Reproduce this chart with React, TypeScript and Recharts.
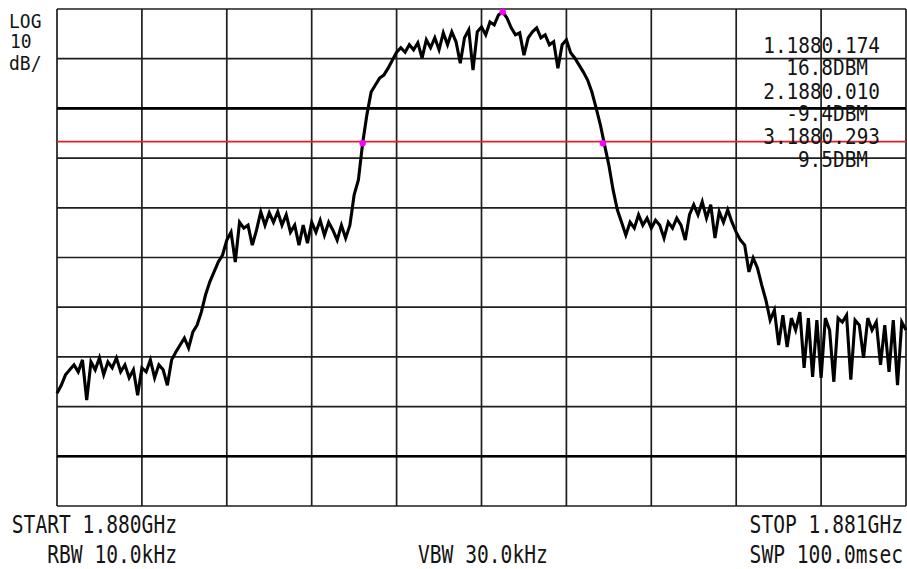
import {
  LineChart,
  Line,
  XAxis,
  YAxis,
  CartesianGrid,
  ReferenceLine,
  ReferenceDot,
} from "recharts";

// sweep: 1.880 GHz .. 1.881 GHz, offsets in kHz
const START_KHZ = 0;
const STOP_KHZ = 1000;
const STEP_KHZ = 5;

// LOG 10 dB/div
const REF_LEVEL = 20;
const BOTTOM_LEVEL = -80;

const gridFreqs = [0, 100, 200, 300, 400, 500, 600, 700, 800, 900, 1000];
const gridLevels = [20, 10, 0, -10, -20, -30, -40, -50, -60, -70, -80];
const boldLevels = [0, -70];
const displayLine = -6.7;

// trace levels (dBm), one per 5 kHz
const floorLeft = [
  -57.3, -55.7, -53.6, -52.6, -51.6, -53.0, -50.6, -58.7, -51.0, -52.6,
  -50.2, -53.6, -51.0, -52.2, -50.2, -53.0, -51.6, -54.2, -52.6, -57.7,
  -52.2, -53.0, -50.6, -54.2, -51.6, -52.6, -55.7, -50.6,
];
const riseLeft = [
  -49.0, -47.6, -46.2, -48.2, -45.0, -43.6, -41.0, -37.5, -34.9, -32.9,
  -30.9, -29.5, -26.5, -24.9, -30.9,
];
const shoulderLeft = [
  -22.9, -24.1, -23.5, -27.5, -24.5, -20.8, -23.5, -21.0, -22.9, -20.8,
  -23.5, -21.4, -24.9, -23.5, -27.5, -23.5, -27.1, -22.9, -24.9, -22.5,
  -25.5, -22.9, -24.5, -26.5, -23.5, -26.1, -23.5,
];
const riseMain = [-17.4, -14.4, -7.0, -1.3, 3.3, 4.7, 6.1, 6.7, 8.1, 9.7, 11.3];
const lobeLeft = [
  12.2, 11.3, 12.8, 11.8, 13.2, 10.1, 13.8, 12.2, 14.2, 11.8, 15.2, 12.8,
  15.4, 13.4, 9.1, 14.2, 15.8, 7.7, 15.4, 16.4,
];
const lobeRight = [
  14.8, 17.4, 16.8, 18.8, 19.4, 18.2, 16.2, 14.8, 15.2, 10.7, 14.2, 15.4,
  16.2, 14.2, 14.8, 12.8, 13.4, 8.1, 12.8, 13.8,
];
const fallMain = [11.2, 10.1, 8.7, 7.3, 5.7, 3.3, 0.1, -3.3, -7.4, -11.4, -16.4, -20.4];
const shoulderRight = [
  -22.9, -25.5, -22.9, -24.1, -21.4, -23.5, -22.1, -24.1, -22.5, -23.5,
  -26.1, -22.9, -24.1, -22.1, -23.5, -26.5, -21.4, -19.4, -21.4, -18.8,
  -22.1, -19.4, -26.1, -20.8, -22.9, -20.4, -22.9, -24.9, -26.5, -27.5,
];
const fallRight = [-32.9, -30.1, -32.1, -35.5, -38.6, -42.6, -40.6];
const floorRight = [
  -47.6, -41.6, -48.0, -42.2, -44.6, -41.0, -52.2, -42.2, -54.0, -42.6,
  -54.2, -42.2, -44.6, -55.0, -42.2, -43.0, -41.6, -54.6, -42.6, -43.6,
  -50.2, -42.2, -44.6, -43.0, -51.6, -43.6, -53.0, -42.6, -55.7, -43.0,
  -44.6,
];

const levels = [
  ...floorLeft,
  ...riseLeft,
  ...shoulderLeft,
  ...riseMain,
  ...lobeLeft,
  ...lobeRight,
  ...fallMain,
  ...shoulderRight,
  ...fallRight,
  ...floorRight,
];

const trace = levels.map((level, i) => ({ f: START_KHZ + i * STEP_KHZ, level }));

const markerFreqs = [525, 360, 643];
const markerLevels = [19.4, -7.0, -7.0];

const markerReadout = ["1.1880.174", "2.1880.010", "3.1880.293"];
const markerValues = ["16.8DBM", "-9.4DBM", "9.5DBM"];

const FONT = "'DejaVu Sans Mono', monospace";

function Txt({
  x,
  y,
  children,
  anchor = "start",
  size = 19.6,
  sy = 1.22,
}: {
  x: number;
  y: number;
  children: string;
  anchor?: "start" | "end" | "middle";
  size?: number;
  sy?: number;
}) {
  return (
    <text
      transform={`translate(${x},${y}) scale(1,${sy})`}
      textAnchor={anchor}
      fontFamily={FONT}
      fontSize={size}
      fill="#141414"
    >
      {children}
    </text>
  );
}

export default function App() {
  return (
    <div
      style={{
        position: "absolute",
        left: 0,
        top: 0,
        width: 907,
        height: 569,
        background: "#fff",
      }}
    >
      <LineChart
        width={907}
        height={569}
        data={trace}
        margin={{ top: 9, right: 1, bottom: 63, left: 57 }}
      >
        <CartesianGrid stroke="#1e1e1e" strokeWidth={1.7} />
        <XAxis
          type="number"
          dataKey="f"
          domain={[START_KHZ, STOP_KHZ]}
          ticks={gridFreqs}
          hide
        />
        <YAxis
          type="number"
          domain={[BOTTOM_LEVEL, REF_LEVEL]}
          ticks={gridLevels}
          hide
        />
        {boldLevels.map((v) => (
          <ReferenceLine key={v} y={v} stroke="#000" strokeWidth={2.6} />
        ))}
        <ReferenceLine y={displayLine} stroke="#e41e26" strokeWidth={1.8} />
        <Line
          dataKey="level"
          type="linear"
          stroke="#000"
          strokeWidth={3.1}
          strokeLinejoin="miter"
          dot={false}
          isAnimationActive={false}
        />
        {markerFreqs.map((f, i) => (
          <ReferenceDot
            key={f}
            x={f}
            y={markerLevels[i]}
            r={3.2}
            fill="#ff00ff"
            stroke="none"
          />
        ))}
      </LineChart>
      <svg
        width={907}
        height={569}
        style={{ position: "absolute", left: 0, top: 0, pointerEvents: "none" }}
      >
        <Txt x={9} y={28} size={18} sy={1.12}>LOG</Txt>
        <Txt x={10} y={48} size={18} sy={1.12}>10</Txt>
        <Txt x={9} y={70} size={18} sy={1.12}>dB/</Txt>
        {markerReadout.map((t, i) => (
          <Txt key={t} x={880} y={53 + i * 45.5} anchor="end" size={19.4} sy={1.06}>
            {t}
          </Txt>
        ))}
        {markerValues.map((t, i) => (
          <Txt key={t} x={868} y={75 + i * 46} anchor="end" size={19.4} sy={1.06}>
            {t}
          </Txt>
        ))}
        <Txt x={177} y={533} anchor="end">START 1.880GHz</Txt>
        <Txt x={177} y={563} anchor="end">RBW 10.0kHz</Txt>
        <Txt x={418} y={563}>VBW 30.0kHz</Txt>
        <Txt x={903} y={533} anchor="end">STOP 1.881GHz</Txt>
        <Txt x={903} y={563} anchor="end">SWP 100.0msec</Txt>
      </svg>
    </div>
  );
}
